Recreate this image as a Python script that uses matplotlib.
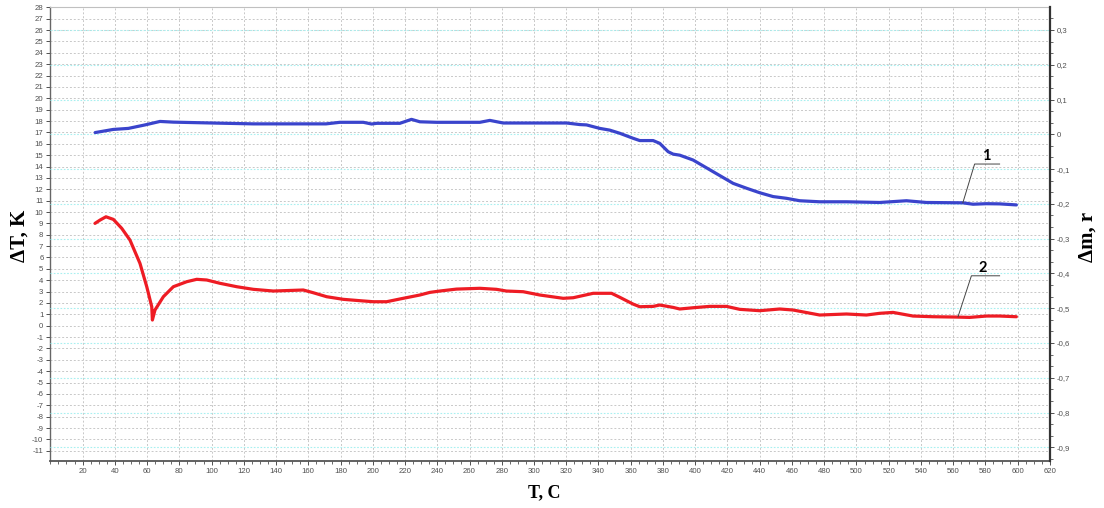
import matplotlib
matplotlib.use("Agg")
import matplotlib.pyplot as plt
from matplotlib.ticker import MultipleLocator, FixedLocator

plt.rcParams['axes.unicode_minus'] = False

# curve 1 (blue) - mass change, right axis
t_mass = [27.8, 39, 48.4, 58.7, 68, 76.3, 105, 126, 171, 179.6, 194.1, 199.3, 202.4,
          216.8, 224, 229.2, 239.6, 266.4, 272.6, 280.9, 320.2, 328.4, 332.6, 340.8,
          347, 353.2, 361.5, 365.6, 373.9, 378, 383.2, 386.3, 390.4, 398.7, 411.1,
          423.5, 431.8, 440, 448.3, 456.6, 464.8, 477.2, 493.8, 514.4, 531, 543.4,
          566, 572.3, 580.6, 588.8, 599.2]
dm = [0.005, 0.014, 0.017, 0.027, 0.037, 0.035, 0.032, 0.030, 0.030, 0.0345, 0.0345,
      0.0296, 0.0316, 0.0316, 0.043, 0.036, 0.0345, 0.0345, 0.040, 0.0325, 0.0325,
      0.028, 0.027, 0.017, 0.012, 0.003, -0.0115, -0.018, -0.018, -0.026, -0.050,
      -0.057, -0.060, -0.074, -0.1075, -0.141, -0.155, -0.168, -0.179, -0.184,
      -0.191, -0.194, -0.194, -0.196, -0.191, -0.196, -0.197, -0.201, -0.1995,
      -0.200, -0.203]

# curve 2 (red) - DTA signal, left axis
t_dta = [27.7, 30.8, 34.5, 39.1, 44.3, 49.4, 55.6, 59.8, 62.9, 63.3, 64.9, 70.1, 76.3,
         84.6, 90.8, 97, 105.2, 115.6, 125.9, 138.3, 150.7, 156.9, 163.1, 171.4, 181.7,
         192, 200.3, 208.6, 216.8, 229.2, 235.4, 241.6, 251.9, 266.4, 276.7, 282.9,
         293.3, 303.6, 318.1, 324.3, 336.7, 348.1, 353.2, 361.5, 365.6, 373.9, 378,
         386.3, 390.4, 398.7, 409, 419.4, 427.6, 440, 452.4, 460.7, 477.2, 493.8,
         506.2, 514.4, 522.7, 535.1, 547.5, 562, 570.2, 580.6, 588.8, 599.2]
dT = [9.0, 9.29, 9.58, 9.35, 8.56, 7.53, 5.48, 3.43, 1.67, 0.5, 1.38, 2.55, 3.43, 3.87,
      4.08, 4.02, 3.73, 3.43, 3.2, 3.05, 3.11, 3.14, 2.9, 2.55, 2.32, 2.2, 2.11, 2.11,
      2.35, 2.7, 2.93, 3.05, 3.22, 3.29, 3.2, 3.05, 2.99, 2.7, 2.41, 2.46, 2.85, 2.85,
      2.5, 1.9, 1.67, 1.7, 1.82, 1.61, 1.47, 1.58, 1.7, 1.7, 1.44, 1.32, 1.47, 1.38,
      0.94, 1.03, 0.94, 1.09, 1.17, 0.85, 0.79, 0.76, 0.73, 0.85, 0.85, 0.79]

x_ticks = list(range(20, 621, 20))
left_ticks = list(range(-11, 29))
right_ticks = [0.3, 0.2, 0.1, 0, -0.1, -0.2, -0.3, -0.4, -0.5, -0.6, -0.7, -0.8, -0.9]
right_labels = ['0,3', '0,2', '0,1', '0', '-0,1', '-0,2', '-0,3', '-0,4', '-0,5',
                '-0,6', '-0,7', '-0,8', '-0,9']

fig = plt.figure(figsize=(11.04, 5.08), dpi=100)
ax = fig.add_axes([0.0456, 0.0925, 0.9054, 0.8937])
ax2 = ax.twinx()
ax3 = ax.twinx()

tick_col = '#505050'
ax.set_xlim(0, 620)
ax.set_ylim(-11.9, 28.03)
ax.xaxis.set_major_locator(FixedLocator(x_ticks))
ax.xaxis.set_minor_locator(MultipleLocator(5))
ax.yaxis.set_major_locator(FixedLocator(left_ticks))
ax.tick_params(axis='both', which='major', labelsize=5.6, colors=tick_col, length=3, width=0.7, pad=2)
ax.tick_params(axis='x', which='minor', length=2, width=0.6, colors=tick_col)
ax.grid(True, which='major', color='#c8c8c8', linestyle=(0, (2, 2)), linewidth=0.7)
for lab in ax.get_xticklabels() + ax.get_yticklabels():
    lab.set_family('Liberation Sans')

ax2.set_ylim(-0.9393, 0.366)
ax2.yaxis.set_major_locator(FixedLocator(right_ticks))
ax2.set_yticklabels(right_labels)
ax2.yaxis.set_minor_locator(MultipleLocator(0.1 / 3))
ax2.tick_params(axis='y', which='major', labelsize=5.6, colors=tick_col, length=3, width=0.7, pad=2)
ax2.tick_params(axis='y', which='minor', length=2, width=0.6, colors=tick_col)
ax2.grid(True, axis='y', color='#a8f0f0', linestyle=(0, (1.5, 1.5)), linewidth=0.8)
for lab in ax2.get_yticklabels():
    lab.set_family('Liberation Sans')
ax2.plot(t_mass, dm, color='#3a44cc', linewidth=2.3, solid_capstyle='round')

ax3.set_ylim(ax.get_ylim())
ax3.axis('off')
ax3.plot(t_dta, dT, color='#ee1c24', linewidth=2.3, solid_capstyle='round')

# leader lines with curve numbers
ax3.plot([566, 573.3, 588.8], [10.81, 14.22, 14.22], color='#444444', linewidth=0.7)
ax3.text(580.6, 14.3, '1', ha='center', va='bottom', fontsize=10.5, fontweight='bold', family='Lato')
ax3.plot([563, 571.3, 588.8], [0.79, 4.39, 4.39], color='#444444', linewidth=0.7)
ax3.text(578.5, 4.45, '2', ha='center', va='bottom', fontsize=10.5, fontweight='bold', family='Lato')

ax.spines['right'].set_visible(False)
ax.spines['top'].set_color('#c0c0c0')
ax.spines['top'].set_linewidth(0.8)
ax.spines['left'].set_color('#666666')
ax.spines['bottom'].set_color('#555555')
ax.spines['left'].set_linewidth(1.0)
ax.spines['bottom'].set_linewidth(1.3)
for s in ['left', 'top', 'bottom']:
    ax2.spines[s].set_visible(False)
ax2.spines['right'].set_color('#333333')
ax2.spines['right'].set_linewidth(1.6)

fig.text(0.018, 0.535, '\u0394T, K', rotation=90, ha='center', va='center',
         fontsize=15, fontweight='bold', family='Liberation Serif')
fig.text(0.985, 0.533, '\u0394m, r', rotation=90, ha='center', va='center',
         fontsize=15, fontweight='bold', family='Liberation Serif')
fig.text(0.493, 0.03, 'T, C', ha='center', va='center',
         fontsize=13, fontweight='bold', family='Liberation Serif')

fig.savefig('out.png', dpi=100)
